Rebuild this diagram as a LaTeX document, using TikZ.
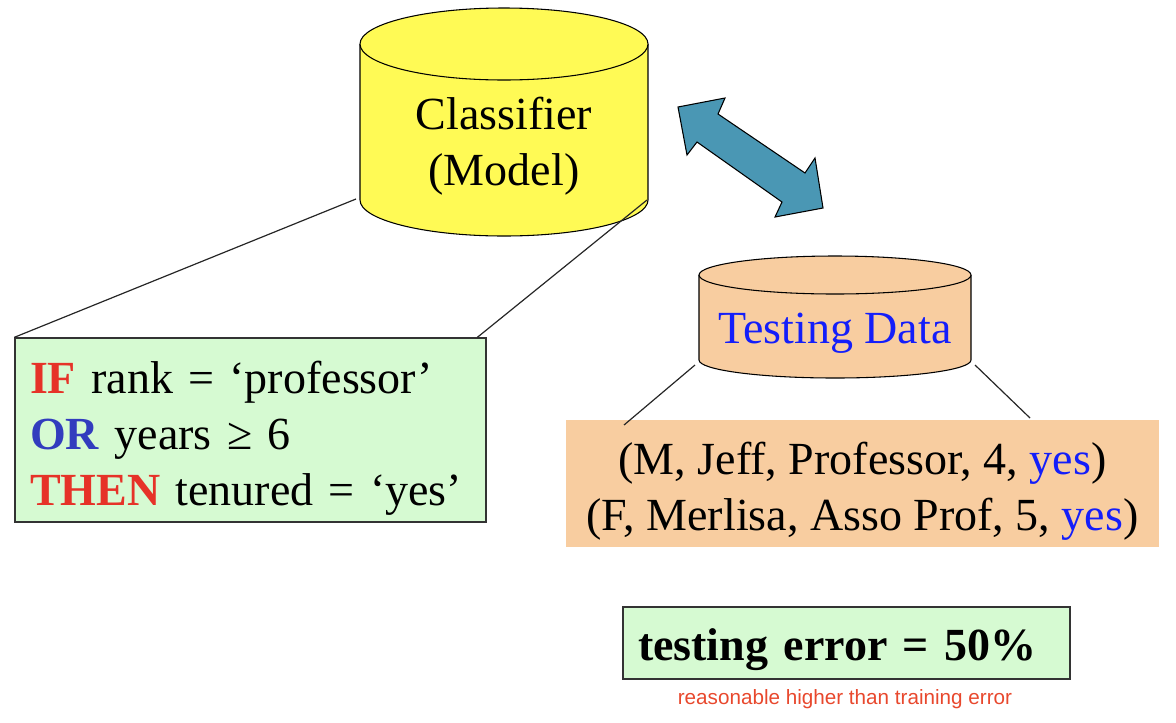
\documentclass[tikz,border=0pt]{standalone}
\usepackage{fontspec}
\setmainfont{Liberation Serif}
\newfontfamily\notefont{Liberation Sans}
\usetikzlibrary{positioning}
\definecolor{clsyellow}{RGB}{255,250,85}
\definecolor{datapeach}{RGB}{248,205,160}
\definecolor{rulegreen}{RGB}{214,250,210}
\definecolor{arrowblue}{RGB}{74,151,180}
\definecolor{ifred}{RGB}{230,50,40}
\definecolor{orblue}{RGB}{50,60,190}
\definecolor{yesblue}{RGB}{20,30,250}
\definecolor{notered}{RGB}{232,72,45}
\newcommand{\topstrut}[1]{\rule{0pt}{#1}}
\tikzset{
  big/.style={font=\fontsize{34.5}{42}\selectfont},
  rulebox/.style={big, draw=black!80, fill=rulegreen, line width=1pt, inner xsep=11.25pt, inner ysep=0pt, align=left},
  databox/.style={big, fill=datapeach, inner sep=0pt, align=center},
  link/.style={line width=0.9pt, black!85},
}
\begin{document}
\begin{tikzpicture}[x=0.75pt,y=0.75pt,yscale=-1]
\useasboundingbox (0,0) rectangle (1176,722);

%Shape: Can [Classifier]
\fill[clsyellow] (360,44) rectangle (648,200);
\fill[clsyellow] (504,200) ellipse [x radius=144, y radius=36];
\draw[line width=0.8pt] (360,44) -- (360,200) arc [start angle=180, end angle=0, x radius=144, y radius=36] -- (648,44);
\draw[line width=0.8pt, fill=clsyellow] (504,44) ellipse [x radius=144, y radius=36];

%Shape: Can [Testing Data]
\fill[datapeach] (699,275) rectangle (971,360);
\fill[datapeach] (835,360) ellipse [x radius=136, y radius=18];
\draw[line width=0.8pt] (699,275) -- (699,360) arc [start angle=180, end angle=0, x radius=136, y radius=18] -- (971,275);
\draw[line width=0.8pt, fill=datapeach] (835,275) ellipse [x radius=136, y radius=19];

%Shape: Double Arrow
\draw[line width=0.8pt, fill=arrowblue] (678,107) -- (725,98) -- (718,114) -- (805,173) -- (815,158) -- (823,208) -- (775,217) -- (782,202) -- (697,142) -- (687,155) -- cycle;

% Text Node
\node[big, align=center] (cls) at (504,146) {Classifier\\(Model)};
% Text Node
\node[big, text=yesblue] (tst) at (835,333) {Testing Data};

% Rule Box
\node[rulebox, text width=330.75pt, minimum height=138pt] (rules) at (250.5,430) {\topstrut{36.5pt}{\color{ifred}\textbf{IF}} rank = `professor'\\
{\color{orblue}\textbf{OR}} years ≥ 6\\
{\color{ifred}\textbf{THEN}} tenured = `yes'};
% Data Box
\node[databox, minimum width=444.75pt, minimum height=95.25pt] (data) at (862.5,483.5) {\topstrut{36pt}(M, Jeff, Professor, 4, {\color{yesblue}yes})\\
(F, Merlisa, Asso Prof, 5, {\color{yesblue}yes})};
% Error Box
\node[rulebox, text width=312.75pt, minimum height=54pt] (err) at (846.5,643) {\topstrut{34pt}\textbf{testing error = 50\%}};
% Text Node
\node[font=\notefont\fontsize{15.5}{18}\selectfont, text=notered] (note) at (845,699) {reasonable higher than training error};

% Links
\coordinate (clsL) at (356,199);
\coordinate (clsR) at (647,200);
\coordinate (tstL) at (695,365);
\coordinate (tstR) at (975,365);
\coordinate (dataL) at (624,425);
\coordinate (dataR) at (1030,418);
\draw[link] (clsL) -- (rules.north west);
\draw[link] (clsR) -- ([xshift=-7pt]rules.north east);
\draw[link] (tstL) -- (dataL);
\draw[link] (tstR) -- (dataR);

\end{tikzpicture}
\end{document}
